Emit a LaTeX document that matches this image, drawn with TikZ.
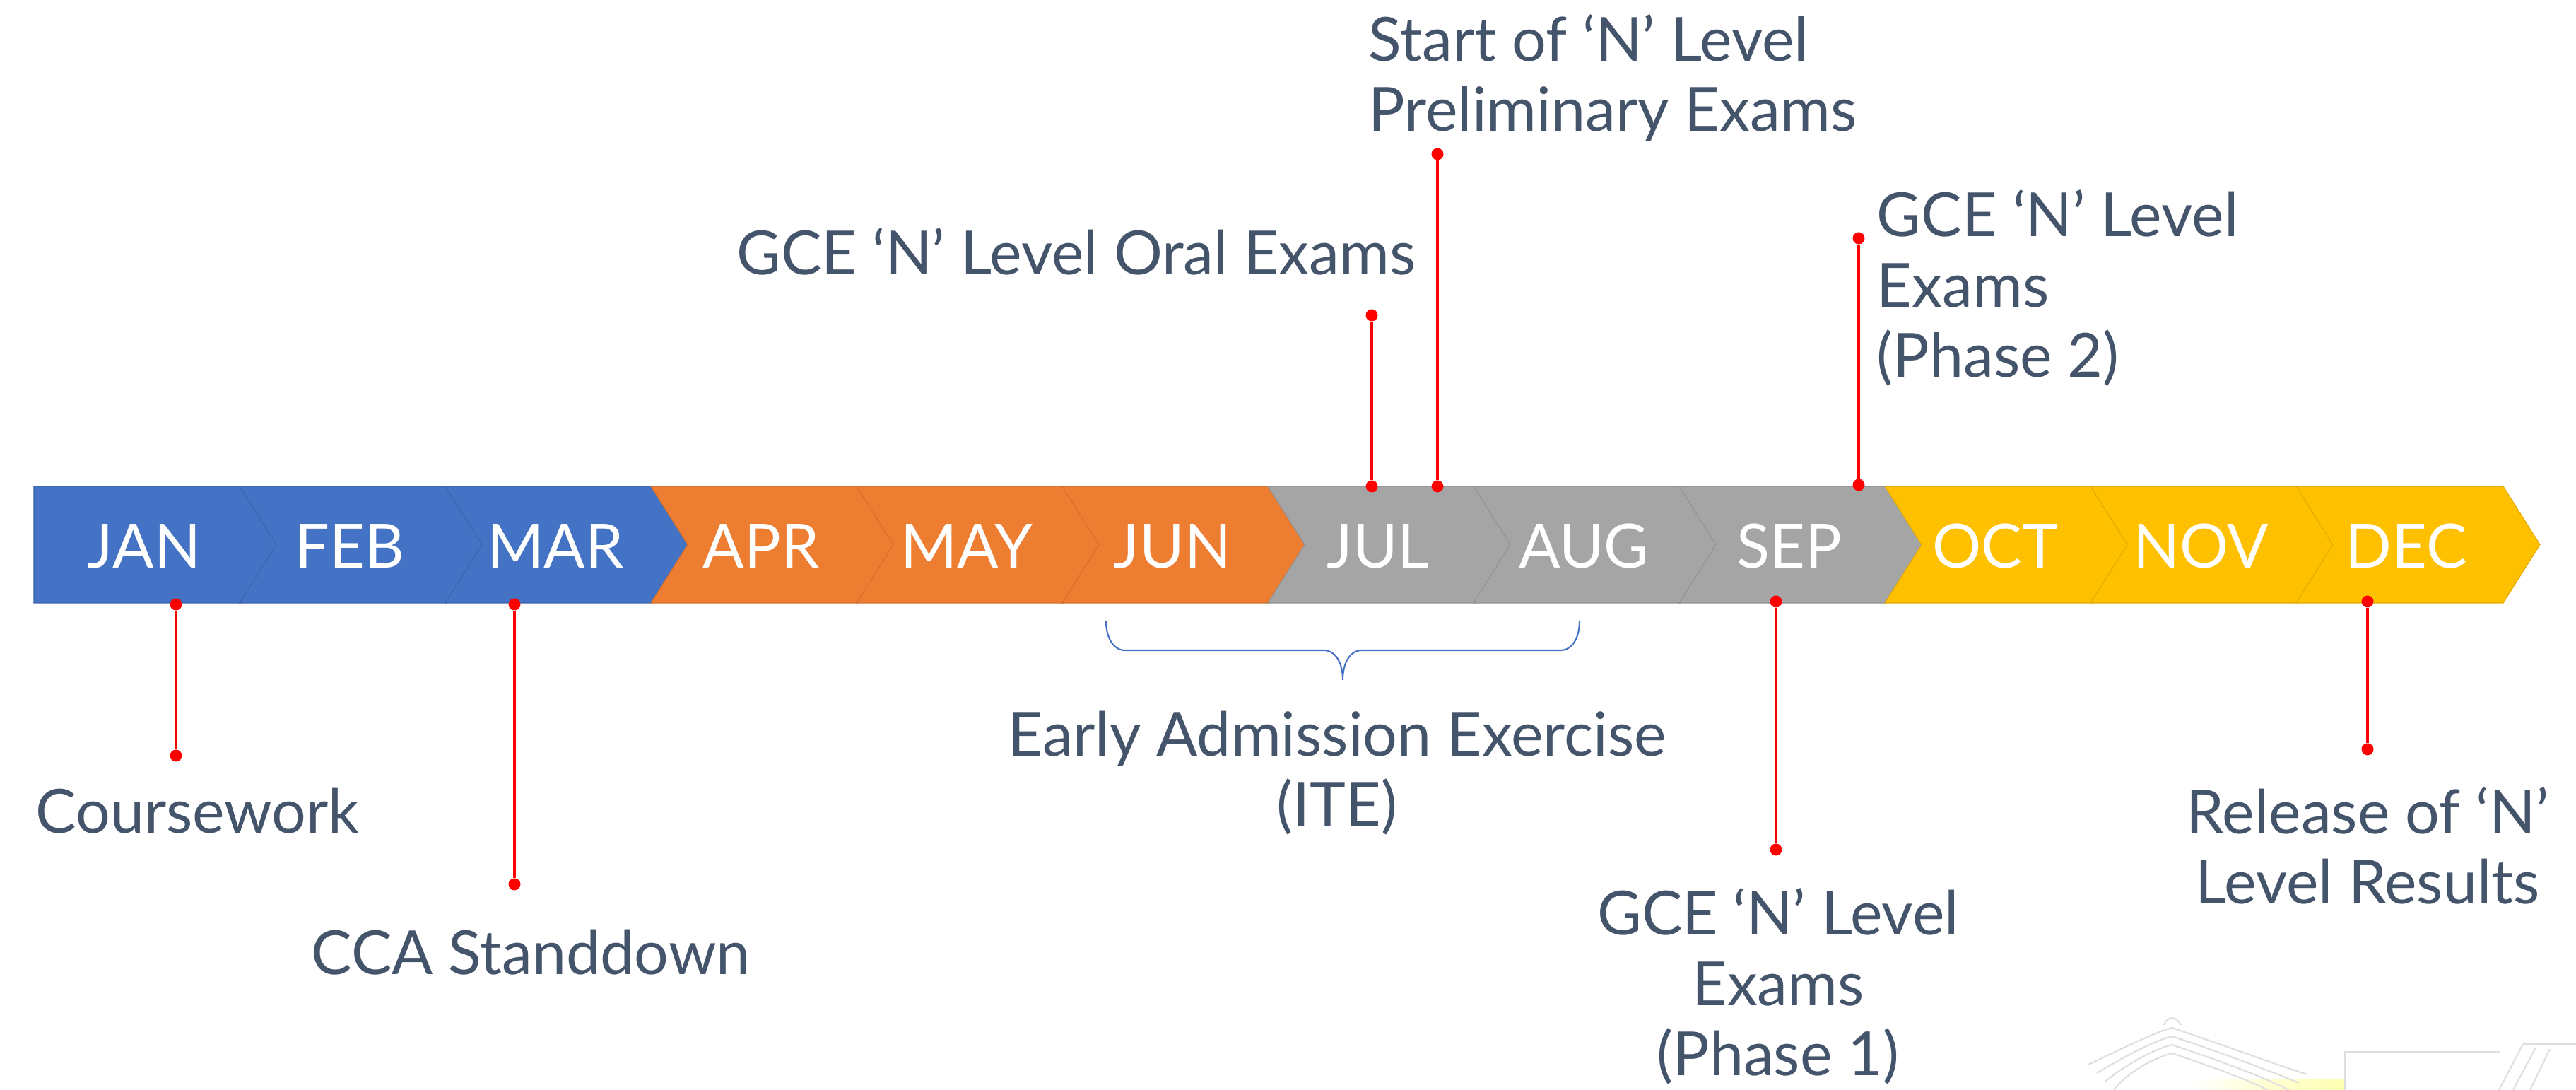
\documentclass[tikz,border=0pt]{standalone}
\usepackage{fontspec}
\setmainfont{Lato}
\usetikzlibrary{positioning}

\definecolor{tlblue}{HTML}{4472C4}
\definecolor{tlorange}{HTML}{ED7D31}
\definecolor{tlgrey}{HTML}{A5A5A5}
\definecolor{tlgold}{HTML}{FFC000}
\definecolor{slate}{HTML}{44546A}

\begin{document}
\begin{tikzpicture}[
    month/.style={text=white, font=\fontsize{24.6}{29}\selectfont, anchor=base, inner sep=0pt},
    event/.style={text=slate, font=\fontsize{24.5}{28.4}\selectfont, inner sep=0pt},
    pinline/.style={red, line width=0.9pt},
    pindot/.style={circle, fill=red, inner sep=0pt, minimum size=0.17cm}]
  \useasboundingbox (0,0) rectangle (36.45,15.42);

  % month chevrons
  \foreach \m/\c/\n [count=\i from 0] in {JAN/tlblue/0, FEB/tlblue/0.52, MAR/tlblue/0.52,
      APR/tlorange/0.52, MAY/tlorange/0.52, JUN/tlorange/0.52,
      JUL/tlgrey/0.52, AUG/tlgrey/0.52, SEP/tlgrey/0.52,
      OCT/tlgold/0.52, NOV/tlgold/0.52, DEC/tlgold/0.52}{
    \pgfmathsetmacro\xl{0.48+2.91*\i}
    \filldraw[fill=\c, draw=\c!88!black, line width=0.3pt]
      (\xl,8.54) -- ++(2.93,0) -- ++(0.52,-0.825) -- ++(-0.52,-0.825)
      -- (\xl,6.89) -- ++(\n,0.825) -- cycle;
    \node[month] (m\i) at (\xl+1.56,7.38) {\m};
  }

  % events below the bar
  \node[pindot] (cw1) at (2.49,6.87) {};
  \node[pindot] (cw2) at (2.49,4.73) {};
  \draw[pinline] (cw1) -- (cw2);
  \node[event, anchor=base west] (coursework) at (0.50,3.63) {Coursework};

  \node[pindot] (cca1) at (7.28,6.87) {};
  \node[pindot] (cca2) at (7.28,2.91) {};
  \draw[pinline] (cca1) -- (cca2);
  \node[event, anchor=base west] (cca) at (4.40,1.63) {CCA Standdown};

  \node[pindot] (pa1) at (25.13,6.91) {};
  \node[pindot] (pa2) at (25.13,3.40) {};
  \draw[pinline] (pa1) -- (pa2);
  \node[event, anchor=base, align=center] (phaseone) at (25.16,0.20)
    {GCE ‘N’ Level\\Exams\\(Phase 1)};

  \node[pindot] (rs1) at (33.50,6.91) {};
  \node[pindot] (rs2) at (33.50,4.82) {};
  \draw[pinline] (rs1) -- (rs2);
  \node[event, anchor=base, align=center] (results) at (33.50,2.63)
    {Release of ‘N’\\Level Results};

  % events above the bar
  \node[pindot] (or1) at (19.41,8.54) {};
  \node[pindot] (or2) at (19.41,10.96) {};
  \draw[pinline] (or1) -- (or2);
  \node[event, anchor=base east] (oral) at (20.04,11.53) {GCE ‘N’ Level Oral Exams};

  \node[pindot] (pr1) at (20.34,8.54) {};
  \node[pindot] (pr2) at (20.34,13.24) {};
  \draw[pinline] (pr1) -- (pr2);
  \node[event, anchor=base west, align=left] (prelim) at (19.36,13.56)
    {Start of ‘N’ Level\\Preliminary Exams};

  \node[pindot] (pb1) at (26.30,8.56) {};
  \node[pindot] (pb2) at (26.30,12.05) {};
  \draw[pinline] (pb1) -- (pb2);
  \node[event, anchor=base west, align=left] (phasetwo) at (26.55,10.08)
    {GCE ‘N’ Level\\Exams\\(Phase 2)};

  % brace under JUN--AUG
  \coordinate (bl) at (15.65,6.64);
  \coordinate (bt) at (19.00,5.80);
  \coordinate (br) at (22.35,6.64);
  \draw[tlblue, line width=0.6pt]
    (bl) .. controls (15.65,6.40) and (15.75,6.22) .. (15.92,6.22) -- (18.73,6.22)
    .. controls (18.90,6.22) and (19.00,6.04) .. (bt)
    .. controls (19.00,6.04) and (19.10,6.22) .. (19.27,6.22) -- (22.08,6.22)
    .. controls (22.25,6.22) and (22.35,6.40) .. (br);
  \node[event, anchor=base, align=center] (ite) at (18.92,3.73)
    {Early Admission Exercise\\(ITE)};

  % faded sketch, bottom right
  \begin{scope}[black!13, line width=0.6pt]
    \shade[left color=white, right color=yellow!30, middle color=yellow!18] (31.0,0) rectangle (33.2,0.15);
    \foreach \d in {0,0.12,0.24,0.36}
      \draw (29.55+\d,0.36-\d) .. controls (30.1,0.62-\d) and (30.5,0.82-\d) .. (30.73,0.88-\d)
        .. controls (31.4,0.66-\d) and (32.2,0.36-\d) .. (32.65-\d,0.22-\d);
    \draw (30.62,0.92) .. controls (30.66,1.05) and (30.8,1.05) .. (30.86,0.92);
    \draw (33.18,0) -- (33.18,0.54) -- (35.37,0.54);
    \draw (35.70,0.65) -- (36.45,0.65);
    \draw (35.70,0.65) -- (35.36,0);
    \draw (35.88,0.60) -- (35.56,0);
    \draw (36.08,0.58) -- (35.80,0);
  \end{scope}
\end{tikzpicture}
\end{document}
